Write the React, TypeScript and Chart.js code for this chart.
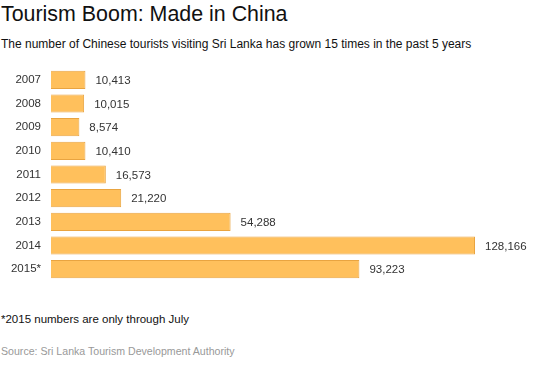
import React, { useEffect, useRef } from "react";
import { Chart, registerables } from "chart.js";

Chart.register(...registerables);

const years = ["2007", "2008", "2009", "2010", "2011", "2012", "2013", "2014", "2015*"];
const tourists = [10413, 10015, 8574, 10410, 16573, 21220, 54288, 128166, 93223];

const title = "Tourism Boom: Made in China";
const subtitle = "The number of Chinese tourists visiting Sri Lanka has grown 15 times in the past 5 years";
const footnote = "*2015 numbers are only through July";
const source = "Source: Sri Lanka Tourism Development Authority";

const FONT = "'Liberation Sans', Arial, Helvetica, sans-serif";

const valueLabels = {
  id: "valueLabels",
  afterDatasetsDraw(chart: any) {
    const ctx = chart.ctx;
    const meta = chart.getDatasetMeta(0);
    ctx.save();
    ctx.font = `11.5px ${FONT}`;
    ctx.fillStyle = "#333333";
    ctx.textAlign = "left";
    ctx.textBaseline = "middle";
    meta.data.forEach((bar: any, i: number) => {
      const v = chart.data.datasets[0].data[i] as number;
      ctx.fillText(v.toLocaleString("en-US"), bar.x + 10, bar.y + 1);
    });
    ctx.restore();
  },
};

export default function App() {
  const ref = useRef<HTMLCanvasElement | null>(null);
  useEffect(() => {
    if (!ref.current) return;
    const chart = new Chart(ref.current, {
      type: "bar",
      data: {
        labels: years,
        datasets: [
          {
            data: tourists,
            backgroundColor: "#FFC05C",
            borderColor: "#E9A440",
            borderWidth: 1,
            categoryPercentage: 1,
            barPercentage: 0.77,
          },
        ],
      },
      options: {
        indexAxis: "y",
        animation: false,
        responsive: false,
        maintainAspectRatio: false,
        layout: { padding: 0 },
        plugins: { legend: { display: false }, tooltip: { enabled: false } },
        scales: {
          x: { display: false, min: 0, max: 151744 },
          y: {
            grid: { display: false, drawTicks: false },
            border: { display: false },
            ticks: { color: "#333333", font: { family: FONT, size: 11.5 }, padding: 10 },
            afterFit(scale: any) {
              scale.width = 51;
              scale.paddingTop = 0;
              scale.paddingBottom = 0;
            },
          },
        },
      },
      plugins: [valueLabels],
    });
    return () => chart.destroy();
  }, []);

  return (
    <div
      style={{
        position: "absolute",
        left: 0,
        top: 0,
        width: 553,
        height: 369,
        background: "#fff",
        fontFamily: FONT,
        overflow: "hidden",
      }}
    >
      <div style={{ position: "absolute", left: 1, top: 2, fontSize: 21.4, color: "#111", whiteSpace: "nowrap", lineHeight: "24px" }}>
        {title}
      </div>
      <div style={{ position: "absolute", left: 1, top: 37, fontSize: 12, color: "#111", whiteSpace: "nowrap", lineHeight: "14px" }}>
        {subtitle}
      </div>
      <canvas ref={ref} width={553} height={213} style={{ position: "absolute", left: 0, top: 68, width: 553, height: 213 }} />
      <div style={{ position: "absolute", left: 1, top: 312, fontSize: 11.5, color: "#111", whiteSpace: "nowrap", lineHeight: "15px" }}>
        {footnote}
      </div>
      <div style={{ position: "absolute", left: 1, top: 344, fontSize: 10.6, color: "#999", whiteSpace: "nowrap", lineHeight: "14px" }}>
        {source}
      </div>
    </div>
  );
}
